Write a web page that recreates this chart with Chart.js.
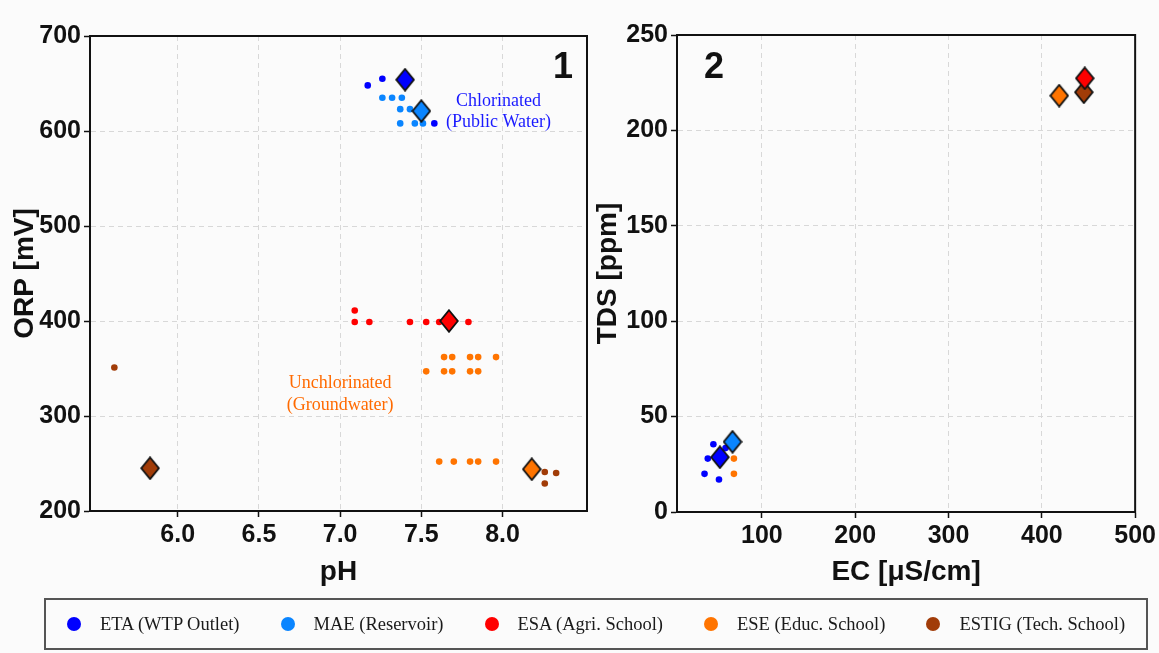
<!DOCTYPE html>
<html>
<head>
<meta charset="utf-8">
<script src="https://cdn.jsdelivr.net/npm/chart.js@4.4.0/dist/chart.umd.min.js"></script>
<style>
  body { margin: 0; background: #fbfbfb; width: 1159px; height: 653px; position: relative; overflow: hidden; }
  #c1 { position: absolute; left: 0; top: 0; }
  #c2 { position: absolute; left: 590px; top: 0; }
  #legend {
    position: absolute; left: 44px; top: 598px; width: 1104px; height: 52px; box-sizing: border-box;
    border: 2px solid #555; display: flex; align-items: center; justify-content: center; gap: 41px;
    font-family: 'Liberation Serif', 'Times New Roman', serif; font-size: 18.5px; color: #1a1a1a;
  }
  .item { display: flex; align-items: center; }
  .dot { width: 14px; height: 14px; border-radius: 50%; margin-right: 19px; }
</style>
</head>
<body>
<canvas id="c1" width="600" height="600"></canvas>
<canvas id="c2" width="569" height="600"></canvas>
<div id="legend"></div>
<script>
const groups = ['ETA (WTP Outlet)', 'MAE (Reservoir)', 'ESA (Agri. School)', 'ESE (Educ. School)', 'ESTIG (Tech. School)'];
const colors = ['#0000ff', '#0a85ff', '#ff0000', '#ff7400', '#a13c08'];

const phTicks = [6.0, 6.5, 7.0, 7.5, 8.0];
const orpTicks = [200, 300, 400, 500, 600, 700];
const ecTicks = [100, 200, 300, 400, 500];
const tdsTicks = [0, 50, 100, 150, 200, 250];

// panel 1: pH / ORP samples
const etaPH = [7.17, 7.26, 7.58];
const etaORP = [648, 655, 608];
const maePH = [7.26, 7.32, 7.38, 7.37, 7.43, 7.37, 7.46, 7.51];
const maeORP = [635, 635, 635, 623, 623, 608, 608, 608];
const esaPH = [7.09, 7.09, 7.18, 7.43, 7.53, 7.61, 7.79];
const esaORP = [411, 399, 399, 399, 399, 399, 399];
const esePH = [7.64, 7.69, 7.80, 7.85, 7.96, 7.53, 7.64, 7.69, 7.80, 7.85, 7.61, 7.70, 7.80, 7.85, 7.96];
const eseORP = [362, 362, 362, 362, 362, 347, 347, 347, 347, 347, 252, 252, 252, 252, 252];
const estigPH = [5.61, 8.26, 8.33, 8.26];
const estigORP = [351, 241, 240, 229];

// panel 2: EC / TDS samples
const etaEC = [48, 42, 38.5, 54, 61];
const etaTDS = [35.5, 28, 20, 17, 33.5];
const maeEC = [];
const maeTDS = [];
const esaEC = [];
const esaTDS = [];
const eseEC = [70, 70];
const eseTDS = [28, 20];
const estigEC = [];
const estigTDS = [];

// diamonds (one per site, same order as groups)
const meanPH = [7.40, 7.50, 7.67, 8.18, 5.83];
const meanORP = [654, 621, 400, 244, 245];
const meanEC = [55, 68.5, 446, 418.6, 445];
const meanTDS = [28.7, 36.8, 227.3, 218.2, 220];

const pts = (xs, ys) => xs.map((x, i) => ({ x: x, y: ys[i] }));

function diamond(color) {
  const c = document.createElement('canvas');
  c.width = 20; c.height = 24;
  const g = c.getContext('2d');
  g.beginPath();
  g.moveTo(10, 1.2); g.lineTo(18.8, 12); g.lineTo(10, 22.8); g.lineTo(1.2, 12);
  g.closePath();
  g.fillStyle = color; g.fill();
  g.lineWidth = 1.8; g.strokeStyle = '#111'; g.stroke();
  return c;
}

function buildSets(dotX, dotY, mx, my) {
  const sets = [];
  groups.forEach((g, i) => {
    sets.push({ label: g + ' mean', data: [{ x: mx[i], y: my[i] }], pointStyle: diamond(colors[i]), order: 0 });
  });
  groups.forEach((g, i) => {
    sets.push({ label: g, data: pts(dotX[i], dotY[i]), pointStyle: 'circle', pointRadius: 3.3,
      backgroundColor: colors[i], borderWidth: 0, order: 1 });
  });
  return sets;
}

const fam = "'Liberation Sans Narrow', 'Liberation Sans', Arial, sans-serif";
const tickFont = { family: fam, size: 25, weight: 'bold' };
const titleFont = { family: fam, size: 28, weight: 'bold' };

function scaleOpts(min, max, values, fmt, title, fit, pad) {
  return {
    type: 'linear', min: min, max: max,
    afterBuildTicks: s => { s.ticks = values.map(v => ({ value: v })); },
    afterFit: fit,
    grid: { color: '#d8d8d8', lineWidth: 1, tickColor: '#111', tickLength: 6, tickWidth: 1.5 },
    border: { color: '#111', width: 2, dash: [5, 4] },
    ticks: { color: '#111', font: tickFont, padding: 3, maxRotation: 0, autoSkip: false, callback: fmt },
    title: { display: true, text: title, color: '#111', font: titleFont, padding: pad }
  };
}

const frame = {
  id: 'frame',
  afterDraw(chart) {
    const { ctx, chartArea: a } = chart;
    ctx.save();
    ctx.strokeStyle = '#111'; ctx.lineWidth = 2;
    ctx.strokeRect(a.left, a.top, a.right - a.left, a.bottom - a.top);
    ctx.restore();
  }
};

const notes1 = {
  id: 'notes1',
  afterDatasetsDraw(chart) {
    const { ctx, chartArea: a, scales: { x, y } } = chart;
    ctx.save();
    ctx.textAlign = 'center'; ctx.textBaseline = 'middle';
    ctx.font = "bold 36px 'Liberation Sans', Arial, sans-serif"; ctx.fillStyle = '#111';
    ctx.fillText('1', a.right - 24, a.top + 32);
    ctx.font = "18px 'Liberation Serif', 'Times New Roman', serif";
    ctx.fillStyle = '#1a1aff';
    ctx.fillText('Chlorinated', x.getPixelForValue(7.975), y.getPixelForValue(631));
    ctx.fillText('(Public Water)', x.getPixelForValue(7.975), y.getPixelForValue(609));
    ctx.fillStyle = '#ff6a00';
    ctx.fillText('Unchlorinated', x.getPixelForValue(7.0), y.getPixelForValue(334));
    ctx.fillText('(Groundwater)', x.getPixelForValue(7.0), y.getPixelForValue(311));
    ctx.restore();
  }
};

const notes2 = {
  id: 'notes2',
  afterDatasetsDraw(chart) {
    const { ctx, chartArea: a } = chart;
    ctx.save();
    ctx.textAlign = 'center'; ctx.textBaseline = 'middle';
    ctx.font = "bold 36px 'Liberation Sans', Arial, sans-serif"; ctx.fillStyle = '#111';
    ctx.fillText('2', a.left + 37, a.top + 33);
    ctx.restore();
  }
};

Chart.defaults.animation = false;

new Chart(document.getElementById('c1'), {
  type: 'scatter',
  data: { datasets: buildSets([etaPH, maePH, esaPH, esePH, estigPH], [etaORP, maeORP, esaORP, eseORP, estigORP], meanPH, meanORP) },
  options: {
    responsive: false,
    devicePixelRatio: 1,
    layout: { padding: { top: 36, right: 13, left: 0, bottom: 0 } },
    plugins: { legend: { display: false }, tooltip: { enabled: false } },
    scales: {
      x: scaleOpts(5.46, 8.52, phTicks, v => v.toFixed(1), 'pH', s => { s.height = 89; }, { top: 0, bottom: 11 }),
      y: scaleOpts(200, 700, orpTicks, v => v, 'ORP [mV]', s => { s.width = 90; }, { top: 8, bottom: 0 })
    }
  },
  plugins: [frame, notes1]
});

new Chart(document.getElementById('c2'), {
  type: 'scatter',
  data: { datasets: buildSets([etaEC, maeEC, esaEC, eseEC, estigEC], [etaTDS, maeTDS, esaTDS, eseTDS, estigTDS], meanEC, meanTDS) },
  options: {
    responsive: false,
    devicePixelRatio: 1,
    layout: { padding: { top: 35, right: 19, left: 0, bottom: 0 } },
    plugins: { legend: { display: false }, tooltip: { enabled: false } },
    scales: {
      x: scaleOpts(9, 500, ecTicks, v => v, 'EC [μS/cm]', s => { s.height = 88; }, { top: 0, bottom: 11 }),
      y: scaleOpts(0, 250, tdsTicks, v => v, 'TDS [ppm]', s => { s.width = 87; }, { top: 1, bottom: 0 })
    }
  },
  plugins: [frame, notes2]
});

const legend = document.getElementById('legend');
groups.forEach((g, i) => {
  const item = document.createElement('div');
  item.className = 'item';
  item.innerHTML = '<span class="dot" style="background:' + colors[i] + '"></span><span>' + g + '</span>';
  legend.appendChild(item);
});
</script>
</body>
</html>
